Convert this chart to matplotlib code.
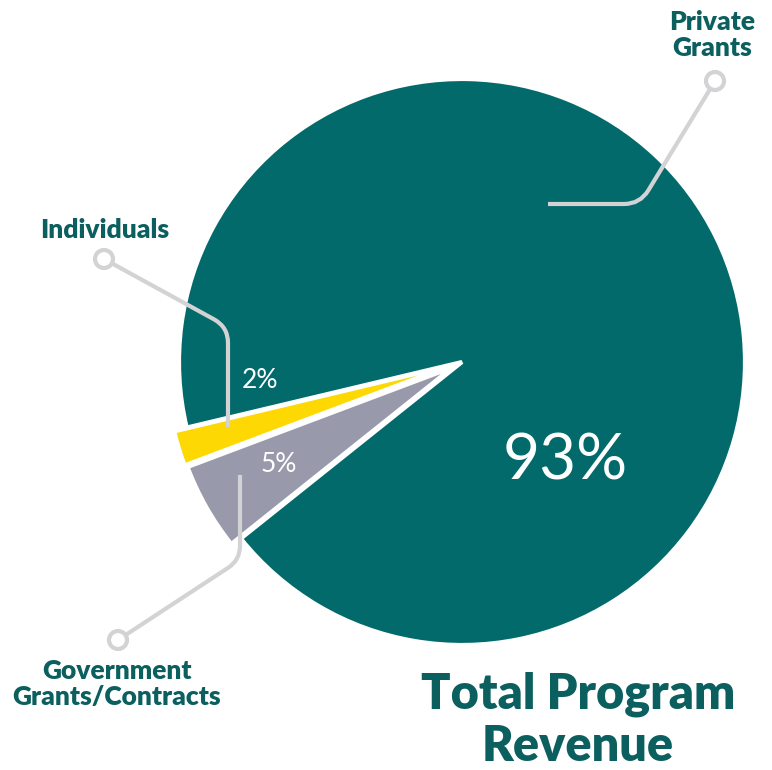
import matplotlib
matplotlib.use("Agg")
import matplotlib.pyplot as plt
from matplotlib.path import Path
from matplotlib.patches import PathPatch, Circle
import numpy as np

# ---- data ----
categories = ["Individuals", "Government\nGrants/Contracts", "Private\nGrants"]
values = [2, 5, 93]
pct_labels = ["2%", "5%", "93%"]
colors = ["#fdd803", "#9899aa", "#036a6c"]
title = "Total Program\nRevenue"

TEXT = "#0b5f5f"
LINE = "#d3d3d5"
W, H = 772, 770

fig = plt.figure(figsize=(W / 100, H / 100), dpi=100)
ax = fig.add_axes([0, 0, 1, 1])

def Y(y):
    return H - y

cx, cy, R = 462, Y(362), 283
# explode is in data (pixel) units because the axes are in pixel units
ax.pie(values, colors=colors, startangle=193.4, counterclock=True,
       explode=[13, 11, 0], radius=R, center=(cx, cy),
       wedgeprops=dict(edgecolor="white", linewidth=3.0, antialiased=True))
ax.set_xlim(0, W)
ax.set_ylim(0, H)
ax.set_aspect("equal")
ax.axis("off")

def leader(points, r=14):
    pts = [np.array([p[0], Y(p[1])], float) for p in points]
    verts = [pts[0]]
    codes = [Path.MOVETO]
    for i in range(1, len(pts) - 1):
        a, b, c = pts[i - 1], pts[i], pts[i + 1]
        d1 = (a - b) / np.linalg.norm(a - b)
        d2 = (c - b) / np.linalg.norm(c - b)
        verts += [b + d1 * r, b, b + d2 * r]
        codes += [Path.LINETO, Path.CURVE3, Path.CURVE3]
    verts.append(pts[-1])
    codes.append(Path.LINETO)
    ax.add_patch(PathPatch(Path(verts, codes), facecolor="none", edgecolor=LINE,
                           lw=3.0, capstyle="butt", zorder=5))
    x0, y0 = points[0]
    ax.add_patch(Circle((x0, Y(y0)), 9, facecolor="white", edgecolor=LINE,
                        lw=3.0, zorder=6))

leader([(715, 81), (640, 204), (548, 204)], r=16)
leader([(104, 259), (228, 327), (228, 427)], r=16)
leader([(118, 640), (240, 560), (240, 475)], r=14)

font = "Lato"
lab = dict(ha="center", va="center", fontsize=19, fontweight="heavy",
           color=TEXT, family=font, zorder=7, linespacing=1.1)
ax.text(712, Y(35), categories[2], **lab)
ax.text(105, Y(230), categories[0], **lab)
ax.text(117, Y(684), categories[1], **lab)
ax.text(578, Y(720), title, ha="center", va="center", fontsize=35,
        fontweight="heavy", color=TEXT, family=font, linespacing=1.2, zorder=7)

pct = dict(ha="center", va="center", fontweight="normal", color="white",
           family=font, zorder=7)
ax.text(260, Y(380), pct_labels[0], fontsize=19, **pct)
ax.text(279, Y(465), pct_labels[1], fontsize=19, **pct)
ax.text(565, Y(462), pct_labels[2], fontsize=46, **pct)

fig.savefig("out.png", dpi=100, facecolor="white")
